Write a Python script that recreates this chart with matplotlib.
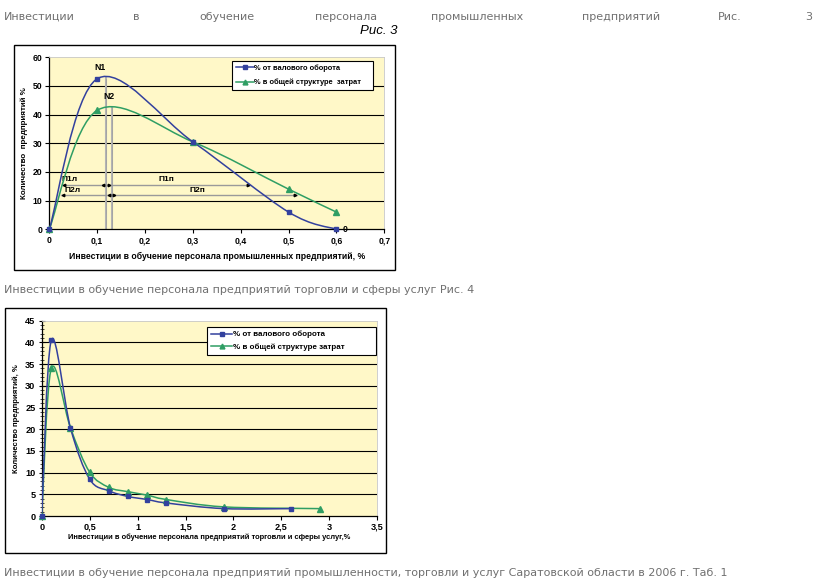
import numpy as np
import matplotlib.pyplot as plt
from matplotlib.path import Path
from matplotlib.patches import PathPatch, Rectangle
from matplotlib.lines import Line2D

# chart 1: industry
x1_blue = [0, 0.1, 0.3, 0.5, 0.6]
y1_blue = [0, 52.5, 30.5, 6, 0]
x1_green = [0, 0.1, 0.3, 0.5, 0.6]
y1_green = [0, 41.5, 30.5, 14, 6]
x1_ticks = [0, 0.1, 0.2, 0.3, 0.4, 0.5, 0.6, 0.7]
x1_labels = ["0", "0,1", "0,2", "0,3", "0,4", "0,5", "0,6", "0,7"]
y1_ticks = [0, 10, 20, 30, 40, 50, 60]

# peak markers and the П-arrows of chart 1
n1_x, n1_top = 0.118, 52.9
n2_x, n2_top = 0.130, 42.8
p1_y, p1_left, p1_right = 15.3, 0.026, 0.419
p2_y, p2_left, p2_right = 12.0, 0.024, 0.517

# chart 2: trade and services
x2_blue = [0, 0.1, 0.3, 0.5, 0.7, 0.9, 1.1, 1.3, 1.9, 2.6]
y2_blue = [0, 40.5, 20.3, 8.5, 5.8, 4.5, 3.8, 3.0, 1.7, 1.7]
x2_green = [0, 0.1, 0.3, 0.5, 0.7, 0.9, 1.1, 1.3, 1.9, 2.9]
y2_green = [0, 34.0, 20.3, 10.1, 6.6, 5.6, 4.8, 3.8, 2.1, 1.7]
x2_ticks = [0, 0.5, 1, 1.5, 2, 2.5, 3, 3.5]
x2_labels = ["0", "0,5", "1", "1,5", "2", "2,5", "3", "3,5"]
y2_ticks = [0, 5, 10, 15, 20, 25, 30, 35, 40, 45]

series_names = ["% от валового оборота", "% в общей структуре  затрат"]
series_names2 = ["% от валового оборота", "% в общей структуре затрат"]

BLUE = "#33419e"
GREEN = "#2f9e64"
YELLOW = "#fff8c8"
WEB_GRAY = "#707070"

W, H = 833, 584


def fx(px):
    return px / W


def fy(py):
    return 1 - py / H


def axes_box(x0, y0, x1, y1):
    return [fx(x0), fy(y1), fx(x1) - fx(x0), fy(y0) - fy(y1)]


def smooth_path(xs, ys):
    # excel-style smoothed line: cubic bezier through the points
    pts = np.column_stack([xs, ys]).astype(float)
    n = len(pts)
    verts = [pts[0]]
    codes = [Path.MOVETO]
    for i in range(n - 1):
        p0 = pts[max(i - 1, 0)]
        p1 = pts[i]
        p2 = pts[i + 1]
        p3 = pts[min(i + 2, n - 1)]
        verts += [p1 + (p2 - p0) / 6, p2 - (p3 - p1) / 6, p2]
        codes += [Path.CURVE4] * 3
    return Path(verts, codes)


def draw_series(ax, xs, ys, color, marker, ms):
    ax.add_patch(PathPatch(smooth_path(xs, ys), fill=False, edgecolor=color, lw=1.1, zorder=4))
    ax.plot(xs, ys, ls="none", marker=marker, color=color, ms=ms, zorder=5, clip_on=False)


def style_axes(ax, fs):
    ax.set_facecolor(YELLOW)
    for s in ["top", "right"]:
        ax.spines[s].set_color("#c8c8c8")
        ax.spines[s].set_linewidth(0.6)
    for s in ["left", "bottom"]:
        ax.spines[s].set_color("black")
        ax.spines[s].set_linewidth(0.9)
    ax.tick_params(labelsize=fs, width=0.8, length=3, pad=2)
    for lab in ax.get_xticklabels() + ax.get_yticklabels():
        lab.set_fontweight("bold")


plt.rcParams["font.family"] = ["Liberation Sans", "DejaVu Sans"]

fig = plt.figure(figsize=(W / 100, H / 100), dpi=100)

# page text
top_words = ["Инвестиции", "в", "обучение", "персонала", "промышленных", "предприятий", "Рис.", "3"]
top_pos = [4, 133, 199, 315, 431, 582, 718, 812]
for w_, px in zip(top_words, top_pos):
    ha = "right" if w_ == "3" else "left"
    fig.text(fx(px), fy(17), w_, fontsize=8.0, color=WEB_GRAY, ha=ha, va="center",
             family=["DejaVu Sans"])
fig.text(fx(398), fy(31), "Рис. 3", fontsize=9.5, style="italic", ha="right", va="center")
fig.text(fx(4), fy(290), "Инвестиции в обучение персонала предприятий торговли и сферы услуг Рис. 4",
         fontsize=8.0, color=WEB_GRAY, ha="left", va="center", family=["DejaVu Sans"])
fig.text(fx(4), fy(573), "Инвестиции в обучение персонала предприятий промышленности, торговли и услуг "
         "Саратовской области в 2006 г. Таб. 1",
         fontsize=8.0, color=WEB_GRAY, ha="left", va="center", family=["DejaVu Sans"])

# frames around the two chart pictures
fig.add_artist(Rectangle((fx(13.5), fy(269.5)), fx(395) - fx(13.5), fy(45) - fy(269.5),
                         transform=fig.transFigure, fill=False, ec="black", lw=1))
fig.add_artist(Rectangle((fx(5), fy(553)), fx(386) - fx(5), fy(308) - fy(553),
                         transform=fig.transFigure, fill=False, ec="black", lw=1))

# ---- chart 1
ax1 = fig.add_axes(axes_box(49.3, 57.3, 384.3, 229.3))
ax1.set_xlim(0, 0.7)
ax1.set_ylim(0, 60)
ax1.set_xticks(x1_ticks)
ax1.set_xticklabels(x1_labels)
ax1.set_yticks(y1_ticks)
style_axes(ax1, 6.2)
for yv in y1_ticks[1:-1]:
    ax1.axhline(yv, color="black", lw=0.8, zorder=1)

# peak lines
for nx, ntop in [(n1_x, n1_top), (n2_x, n2_top)]:
    ax1.plot([nx, nx], [0, ntop], color="#b4b4b4", lw=1.5, zorder=2)
    ax1.plot([nx, nx], [0, ntop], color="#808080", lw=0.4, ls=(0, (1, 1)), zorder=2)
ax1.text(0.106, 56.4, "N1", fontsize=6.2, fontweight="bold", ha="center", va="center")
ax1.text(0.125, 46.3, "N2", fontsize=6.2, fontweight="bold", ha="center", va="center")

# П arrows
ax1.plot([p1_left, p1_right], [p1_y, p1_y], color="#9a9a9a", lw=1.0, zorder=3)
ax1.plot([p2_left, p2_right], [p2_y, p2_y], color="#9a9a9a", lw=1.0, zorder=3)
ax1.plot([p1_left + 0.004, n1_x - 0.006], [p1_y, p1_y], ls="none", marker="<", ms=1.8, color="black", zorder=3)
ax1.plot([n1_x + 0.006, p1_right - 0.004], [p1_y, p1_y], ls="none", marker=">", ms=1.8, color="black", zorder=3)
ax1.plot([p2_left + 0.004, n2_x - 0.006], [p2_y, p2_y], ls="none", marker="<", ms=1.8, color="black", zorder=3)
ax1.plot([n2_x + 0.006, p2_right - 0.004], [p2_y, p2_y], ls="none", marker=">", ms=1.8, color="black", zorder=3)
ax1.text(0.043, 17.5, "П1л", fontsize=6, fontweight="bold", ha="center", va="center")
ax1.text(0.245, 17.5, "П1п", fontsize=6, fontweight="bold", ha="center", va="center")
ax1.text(0.049, 13.6, "П2л", fontsize=6, fontweight="bold", ha="center", va="center")
ax1.text(0.31, 13.6, "П2п", fontsize=6, fontweight="bold", ha="center", va="center")

draw_series(ax1, x1_green, y1_green, GREEN, "^", 3.8)
draw_series(ax1, x1_blue, y1_blue, BLUE, "s", 3.3)
ax1.text(0.612, 0, "0", fontsize=6.2, fontweight="bold", ha="left", va="center")

ax1.set_xlabel("Инвестиции в обучение персонала промышленных предприятий, %",
               fontsize=6.2, fontweight="bold", labelpad=5)
ax1.set_ylabel("Количество  предприятий %", fontsize=5.8, fontweight="bold", labelpad=3)

h1 = [Line2D([], [], color=BLUE, marker="s", ms=3.0, lw=1.1),
      Line2D([], [], color=GREEN, marker="^", ms=3.5, lw=1.1)]
leg1 = ax1.legend(h1, series_names, loc="upper left", bbox_to_anchor=(0.545, 0.98, 0.421, 0.0),
                  mode="expand", prop={"weight": "bold", "size": 5.4},
                  frameon=True, fancybox=False, edgecolor="black", framealpha=1,
                  borderpad=0.5, labelspacing=0.9, handlelength=2.4, handletextpad=0.1,
                  borderaxespad=0)
leg1.get_frame().set_linewidth(0.8)

# ---- chart 2
ax2 = fig.add_axes(axes_box(41.7, 320.7, 377.3, 516))
ax2.set_xlim(0, 3.5)
ax2.set_ylim(0, 45)
ax2.set_xticks(x2_ticks)
ax2.set_xticklabels(x2_labels)
ax2.set_yticks(y2_ticks)
ax2.set_yticks(np.arange(0, 46, 1), minor=True)
style_axes(ax2, 6.6)
ax2.tick_params(axis="y", which="major", direction="inout", length=5)
ax2.tick_params(axis="y", which="minor", direction="inout", length=2.5, width=0.5)
for yv in y2_ticks[1:-1]:
    ax2.axhline(yv, color="black", lw=0.8, zorder=1)

draw_series(ax2, x2_green, y2_green, GREEN, "^", 3.8)
draw_series(ax2, x2_blue, y2_blue, BLUE, "s", 3.4)

ax2.set_xlabel("Инвестиции в обучение персонала предприятий торговли и сферы услуг,%",
               fontsize=5.4, fontweight="bold", labelpad=1)
ax2.set_ylabel("Количество предприятий, %", fontsize=5.6, fontweight="bold", labelpad=4)

h2 = [Line2D([], [], color=BLUE, marker="s", ms=3.0, lw=1.1),
      Line2D([], [], color=GREEN, marker="^", ms=3.5, lw=1.1)]
leg2 = ax2.legend(h2, series_names2, loc="upper left", bbox_to_anchor=(0.493, 0.969, 0.503, 0.0),
                  mode="expand", prop={"weight": "bold", "size": 5.8},
                  frameon=True, fancybox=False, edgecolor="black", framealpha=1,
                  borderpad=0.5, labelspacing=0.6, handlelength=2.6, handletextpad=0.1,
                  borderaxespad=0)
leg2.get_frame().set_linewidth(0.8)

fig.savefig("out.png", dpi=100)
